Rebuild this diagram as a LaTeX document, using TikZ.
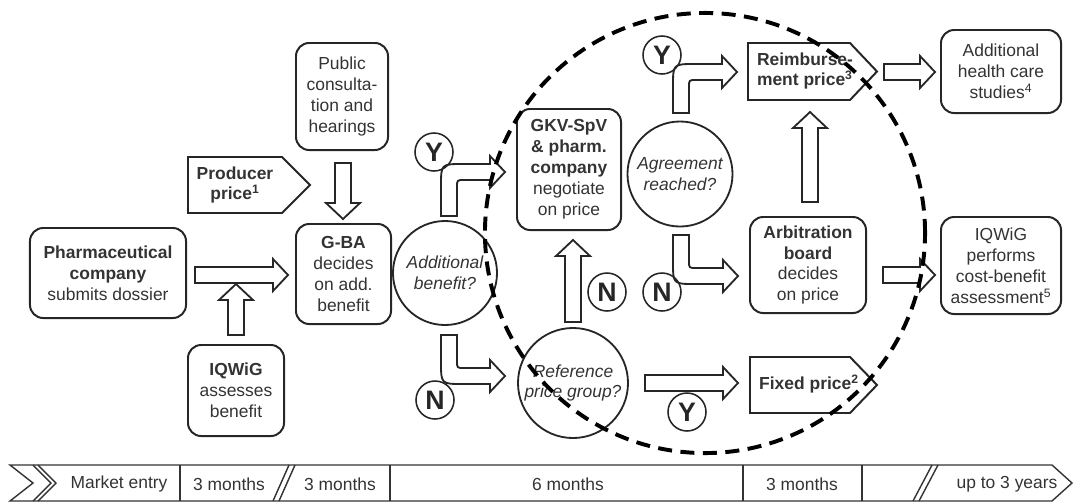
\documentclass[tikz,border=0pt]{standalone}
\usepackage{fontspec}
\setmainfont{Liberation Sans}
\newcommand\arrR[3]{\draw[blk] (#1,#3-8) -- (#2-15,#3-8) -- (#2-15,#3-16) -- (#2,#3) -- (#2-15,#3+16) -- (#2-15,#3+8) -- (#1,#3+8) -- cycle;}
\newcommand\arrU[3]{\draw[blk] (#1-8,#2) -- (#1-8,#3+16) -- (#1-17,#3+16) -- (#1,#3) -- (#1+17,#3+16) -- (#1+8,#3+16) -- (#1+8,#2) -- cycle;}
\newcommand\arrD[3]{\draw[blk] (#1-8,#2) -- (#1-8,#3-16) -- (#1-17,#3-16) -- (#1,#3) -- (#1+17,#3-16) -- (#1+8,#3-16) -- (#1+8,#2) -- cycle;}
\newcommand\bentUR[4]{\draw[blk] (#1-8,#2) -- (#1-8,#3+14) .. controls (#1-8,#3-8) .. (#1+14,#3-8) -- (#4-15,#3-8) -- (#4-15,#3-16) -- (#4,#3) -- (#4-15,#3+16) -- (#4-15,#3+8) -- (#1+15,#3+8) .. controls (#1+8,#3+8) .. (#1+8,#3+15) -- (#1+8,#2) -- cycle;}
\newcommand\bentDR[4]{\draw[blk] (#1-8,#2) -- (#1-8,#3-14) .. controls (#1-8,#3+8) .. (#1+14,#3+8) -- (#4-15,#3+8) -- (#4-15,#3+16) -- (#4,#3) -- (#4-15,#3-16) -- (#4-15,#3-8) -- (#1+15,#3-8) .. controls (#1+8,#3-8) .. (#1+8,#3-15) -- (#1+8,#2) -- cycle;}
\begin{document}
\begin{tikzpicture}[x=0.025cm,y=-0.025cm,
  txt/.style={font=\fontsize{12.4}{14.9}\selectfont, text=black!80, align=center, inner sep=0pt},
  box/.style={txt, draw=black!85, line width=1.4pt, rounded corners=0.33cm},
  q/.style={txt, draw=black!85, line width=1.3pt, circle, font=\fontsize{12.4}{14.9}\selectfont\itshape},
  yn/.style={draw=black!85, line width=1.1pt, circle, minimum size=0.95cm, inner sep=0pt, font=\fontsize{19}{19}\selectfont\bfseries, text=black!85},
  blk/.style={draw=black!85, line width=1.3pt, fill=white, line join=miter},
  pent/.style={draw=black!85, line width=1.4pt, fill=white},
  bar/.style={draw=black!80, line width=1pt},
  ring/.style={draw=black, line width=2.8pt, dash pattern=on 10pt off 6pt}
]
\useasboundingbox (0,0) rectangle (1078,502);

% boxes
\node[box, minimum width=3.9cm, minimum height=2.25cm] (pharma) at (108,273) {\textbf{Pharmaceutical}\\\textbf{company}\\submits dossier};
\node[box, minimum width=2.4cm, minimum height=2.275cm] (iqwig) at (236,390.5) {\textbf{IQWiG}\\assesses\\benefit};
\node[box, minimum width=2.3cm, minimum height=2.675cm] (public) at (342,96.5) {Public\\consulta-\\tion and\\hearings};
\node[box, minimum width=2.375cm, minimum height=2.5cm] (gba) at (343.5,274) {\textbf{G-BA}\\decides\\on add.\\benefit};
\node[box, minimum width=2.6cm, minimum height=3.025cm] (gkv) at (569,169.5) {\textbf{GKV-SpV}\\\textbf{\& pharm.}\\\textbf{company}\\negotiate\\on price};
\node[box, minimum width=2.9cm, minimum height=2.4cm] (arb) at (808,265) {\textbf{Arbitration}\\\textbf{board}\\decides\\on price};
\node[box, minimum width=3cm, minimum height=2.075cm] (studies) at (1001,71.5) {Additional\\health care\\studies\textsuperscript{4}};
\node[box, minimum width=3cm, minimum height=2.425cm] (cba) at (1001,265.5) {IQWiG\\performs\\cost-benefit\\assessment\textsuperscript{5}};

% decision circles
\node[q, minimum size=2.6cm] (addq) at (445,273) {Additional\\benefit?};
\node[q, minimum size=2.625cm] (agree) at (680,174) {Agreement\\reached?};
\node[q, minimum size=2.75cm] (refq) at (573,383) {Reference\\price group?};

% pentagons
\draw[pent] (188,157) -- (282,157) -- (310,185) -- (282,213) -- (188,213) -- cycle;
\node[txt, font=\fontsize{12.4}{14.9}\selectfont\bfseries] (producer) at (235,185) {Producer\\price\textsuperscript{1}};
\draw[pent] (748,43) -- (850,43) -- (877,71.5) -- (850,100) -- (748,100) -- cycle;
\node[txt, align=left, font=\fontsize{12.4}{14.9}\selectfont\bfseries] (reimb) at (805,71) {Reimburse-\\ment price\textsuperscript{3}};
\draw[pent] (750,357) -- (850,357) -- (877,385) -- (850,413) -- (750,413) -- cycle;
\node[txt, font=\fontsize{12.4}{14.9}\selectfont\bfseries] (fixed) at (809,384) {Fixed price\textsuperscript{2}};

% straight block arrows
\arrR{195}{288}{275}
\arrU{236}{335}{284}
\arrD{343}{163}{219}
\arrR{884}{935}{72}
\arrU{810}{202}{112}
\arrU{573}{322}{240}
\arrR{645}{738}{383}
\arrR{883}{935}{275}

% bent block arrows
\bentUR{449}{216}{172}{505}
\bentDR{449}{335}{376}{505}
\bentUR{681}{113}{72}{737}
\bentDR{681}{235}{276}{738}

% Y / N labels
\node[yn] (y1) at (434,152) {Y};
\node[yn] (n1) at (435,400) {N};
\node[yn] (y2) at (662,55) {Y};
\node[yn] (n2) at (607,292) {N};
\node[yn] (n3) at (662,292) {N};
\node[yn] (y3) at (687,412) {Y};

% timeline
\draw[bar] (10,465) -- (1052,465) -- (1072,483) -- (1052,501) -- (10,501) -- (33,483) -- cycle;
\draw[bar] (33,465) -- (51,483) -- (33,501);
\draw[bar] (38,465) -- (56,483) -- (38,501);
\foreach \xx in {180,390,743,862} \draw[bar] (\xx,465) -- (\xx,501);
\draw[bar] (289,465) -- (273,501);
\draw[bar] (295,465) -- (279,501);
\draw[bar] (932,465) -- (913,501);
\draw[bar] (938,465) -- (919,501);
\node[txt] (tl1) at (119,484) {Market entry};
\node[txt] (tl2) at (229,484) {3 months};
\node[txt] (tl3) at (340,484) {3 months};
\node[txt] (tl4) at (568,484) {6 months};
\node[txt] (tl5) at (802,484) {3 months};
\node[txt] (tl6) at (1007,484) {up to 3 years};

% dashed ring
\draw[ring] (705,233) circle (5.5cm);
\end{tikzpicture}
\end{document}
